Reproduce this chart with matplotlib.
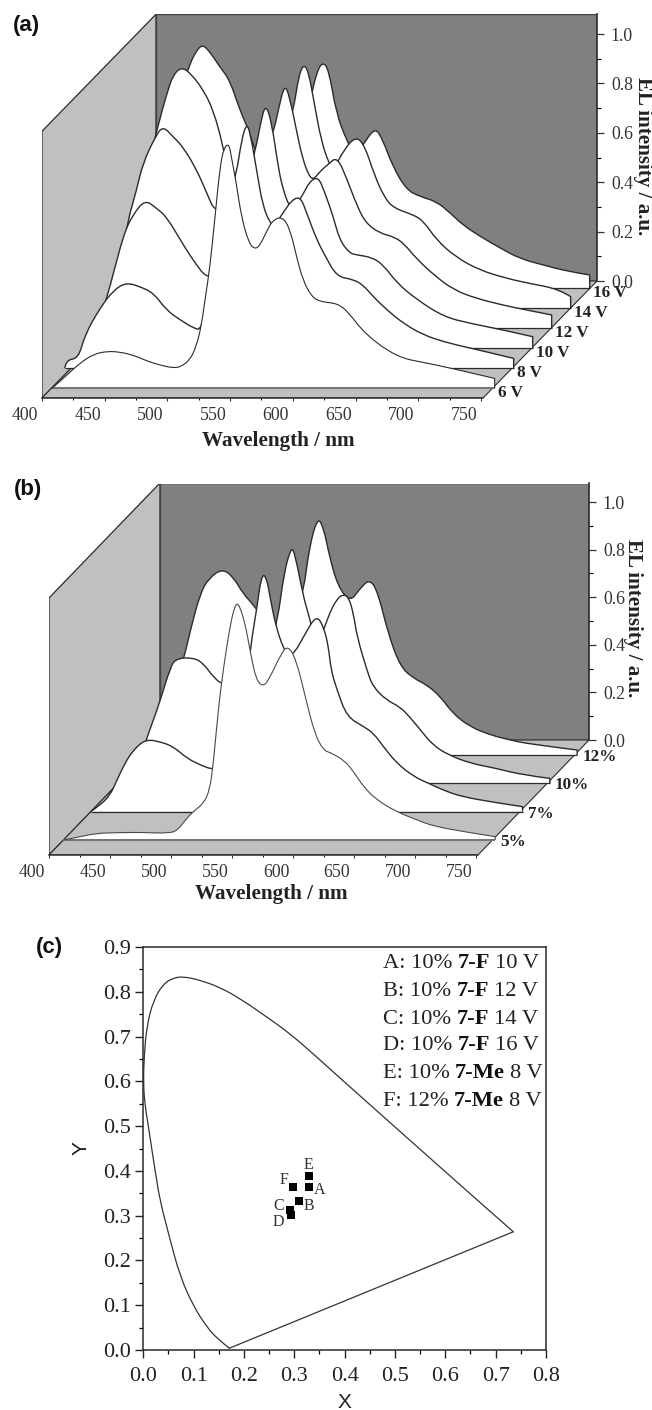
import numpy as np
import matplotlib
matplotlib.use("Agg")
import matplotlib.pyplot as plt
from matplotlib.patches import PathPatch
from matplotlib.path import Path
from matplotlib.transforms import ScaledTranslation

W, H = 652, 1410
SERIF = "Liberation Serif"
SANS = "Liberation Sans"
DARK = "#2b2b2b"

# panel (a): EL spectra at different voltages
labels_a = ["6 V", "8 V", "10 V", "12 V", "14 V", "16 V"]
wl_6v = [400, 412, 422, 433, 444, 454, 465, 475, 486, 497, 503, 510, 515, 519, 522, 526, 530, 534, 537, 541, 543, 547,
         551, 557, 562, 566, 571, 576, 584, 590, 595, 600, 607, 614, 622, 630, 638, 646, 656, 667, 680, 693, 719, 753]
el_6v = [0, .054, .101, .138, .150, .147, .134, .112, .094, .082, .088, .115, .169, .250, .358, .493, .695, .897, .972,
         .992, .938, .830, .695, .587, .563, .580, .634, .681, .695, .641, .533, .439, .371, .351, .347, .337, .297,
         .243, .196, .155, .121, .108, .081, .040]
wl_8v = [395, 396, 406, 411, 423, 434, 444, 455, 466, 476, 487, 498, 504, 513, 519, 524, 532, 536, 540, 543, 548, 553,
         559, 562, 569, 576, 583, 588, 596, 603, 612, 625, 633, 641, 652, 665, 681, 697, 713, 731, 753]
el_8v = [0, .034, .04, .135, .243, .317, .347, .331, .304, .236, .196, .162, .155, .344, .547, .650, .789, .924, .992,
         .951, .803, .655, .587, .576, .628, .681, .695, .628, .520, .452, .371, .360, .337, .290, .236, .182, .135,
         .108, .088, .067, .040]
wl_10v = [400, 408, 416, 427, 435, 444, 453, 461, 472, 482, 494, 501, 512, 525, 532, 536, 540, 545, 550, 554, 559, 562,
          569, 575, 582, 587, 594, 599, 607, 613, 625, 634, 645, 661, 682, 703, 730, 753]
el_10v = [0, .115, .25, .466, .547, .601, .567, .533, .439, .358, .277, .33, .45, .682, .803, .911, .992, .911, .735,
          .641, .574, .567, .614, .675, .695, .634, .533, .439, .385, .378, .368, .337, .263, .196, .128, .101, .074,
          .047]
wl_12v = [400, 413, 422, 427, 437, 443, 451, 459, 470, 478, 485, 499, 515, 531, 535, 540, 544, 550, 554, 559, 563, 568,
          575, 582, 590, 598, 605, 616, 627, 635, 645, 659, 675, 693, 714, 733, 753]
el_12v = [0, .398, .560, .668, .776, .819, .776, .735, .641, .547, .466, .520, .60, .789, .884, .989, .938, .789, .695,
          .621, .601, .634, .665, .695, .601, .493, .425, .385, .371, .344, .283, .216, .155, .121, .094, .074, .054]
wl_14v = [400, 412, 423, 431, 436, 443, 451, 460, 468, 476, 484, 500, 521, 532, 536, 540, 544, 549, 554, 560, 564, 572,
          582, 589, 596, 604, 612, 628, 636, 646, 661, 680, 702, 720, 744, 753]
el_14v = [0, .493, .722, .870, .945, .978, .945, .884, .803, .655, .439, .439, .60, .803, .938, .989, .958, .816, .682,
          .588, .560, .641, .698, .655, .547, .452, .405, .378, .351, .277, .209, .155, .121, .101, .077, .047]
wl_16v = [400, 416, 426, 433, 438, 444, 450, 458, 466, 474, 481, 486, 495, 517, 527, 531, 535, 540, 545, 551, 559, 566,
          573, 582, 588, 596, 607, 618, 631, 642, 652, 666, 682, 697, 716, 737, 753]
el_16v = [0, .560, .789, .891, .951, .989, .958, .897, .843, .722, .641, .560, .466, .600, .708, .776, .870, .918,
          .884, .708, .601, .533, .587, .652, .601, .493, .398, .371, .351, .304, .256, .209, .162, .121, .094, .067,
          .054]

# panel (b): EL spectra at different doping levels
labels_b = ["5%", "7%", "10%", "12%"]
wl_5 = [400, 414, 427, 444, 463, 487, 494, 501, 508, 515, 520, 523, 527, 531, 537, 541, 544, 549, 553, 558, 564, 569,
        578, 584, 591, 599, 606, 613, 619, 630, 638, 646, 657, 673, 690, 703, 728, 754]
el_5 = [0, .014, .028, .031, .032, .028, .042, .091, .126, .154, .210, .322, .546, .714, .910, .990, .992, .910, .798,
        .672, .644, .679, .777, .819, .756, .588, .448, .378, .367, .336, .287, .224, .168, .119, .084, .059, .035,
        .014]
wl_7 = [400, 408, 416, 421, 428, 435, 445, 457, 468, 479, 490, 501, 511, 520, 528, 531, 536, 540, 544, 548, 552, 558,
        562, 567, 576, 585, 591, 595, 597, 602, 610, 624, 632, 640, 651, 665, 677, 692, 705, 727, 754]
el_7 = [0, .028, .070, .126, .203, .259, .304, .294, .273, .224, .196, .175, .203, .315, .525, .693, .847, .994, .990,
        .875, .777, .686, .658, .665, .749, .826, .777, .693, .595, .511, .399, .357, .329, .273, .203, .147, .119,
        .084, .063, .042, .021]
wl_10 = [400, 410, 421, 423, 434, 443, 448, 462, 470, 478, 486, 500, 519, 531, 536, 542, 545, 552, 556, 563, 570, 574,
         579, 584, 589, 593, 596, 604, 609, 620, 631, 639, 648, 658, 671, 689, 710, 732, 754]
el_10 = [0, .056, .140, .182, .336, .490, .525, .528, .504, .448, .413, .420, .448, .686, .882, .994, .966, .784, .714,
         .574, .665, .721, .770, .794, .784, .714, .616, .476, .406, .350, .322, .280, .224, .161, .119, .084, .063,
         .035, .021]
wl_12 = [400, 415, 428, 432, 437, 445, 452, 463, 472, 480, 490, 499, 519, 530, 534, 541, 546, 551, 558, 568, 575, 584,
         591, 599, 609, 620, 631, 642, 652, 666, 683, 699, 715, 754]
el_12 = [0, .189, .357, .413, .525, .679, .742, .783, .749, .679, .623, .553, .497, .693, .861, .999, .959, .833, .707,
         .644, .693, .742, .679, .511, .371, .322, .294, .245, .175, .119, .084, .063, .046, .021]

# panel (c): CIE chromaticity diagram
locus_x = [.171, .146, .126, .10, .073, .05, .033, .025, .0167, .01, .003, 0, .002, .0067, .02, .04, .06, .0795, .1126,
           .152, .192, .245, .291, .344, .391, .663, .735]
locus_y = [.004, .026, .052, .097, .164, .26, .335, .39, .45, .5, .55, .6, .66, .722, .781, .818, .831, .834, .826,
           .81, .785, .744, .707, .655, .607, .335, .264]
point_names = ["A", "B", "C", "D", "E", "F"]
point_x = [.329, .310, .291, .293, .329, .298]
point_y = [.364, .333, .312, .301, .388, .364]
legend_rows = [("A: 10%", "7-F", "10 V"), ("B: 10%", "7-F", "12 V"), ("C: 10%", "7-F", "14 V"),
               ("D: 10%", "7-F", "16 V"), ("E: 10%", "7-Me", "8 V"), ("F: 12%", "7-Me", "8 V")]

fig = plt.figure(figsize=(W / 100, H / 100), dpi=100)


def px_axes(left, top, right, bottom):
    return fig.add_axes([left / W, 1 - bottom / H, (right - left) / W, (bottom - top) / H])


def px_text(x, y, s, **kw):
    return fig.text(x / W, 1 - y / H, s, va="center", **kw)


def smooth_verts(x, y):
    # quadratic bezier pieces: the read points act as control points
    pts = np.column_stack([x, y])
    verts = [pts[0]]
    codes = [Path.MOVETO]
    for i in range(1, len(pts) - 1):
        end = pts[i + 1] if i == len(pts) - 2 else (pts[i] + pts[i + 1]) / 2
        verts += [pts[i], end]
        codes += [Path.CURVE3, Path.CURVE3]
    return verts, codes


def waterfall(box, back, sx, sy, step, curves, names, label_gap, front_color):
    left, top, right, floor = box
    back_left, back_bottom = back
    x0, y0, xstep, ystep = step
    ax = px_axes(left, top, right, floor)
    wl_end = 400 + (right - back_left) / sx
    depth_x = (back_left - left) / sx
    depth_y = (floor - back_bottom) / sy
    wall_top = 1.08
    ax.set_xlim(400, 400 + (right - left) / sx)
    ax.set_ylim(0, (floor - top) / sy)
    ax.patch.set_alpha(0)

    ax.fill([400, 400, 400 + depth_x, 400 + depth_x], [0, wall_top, wall_top + depth_y, depth_y],
            fc="#c0c0c0", ec=DARK, lw=0.9)
    ax.fill([400 + depth_x, 400 + depth_x, wl_end + depth_x, wl_end + depth_x],
            [depth_y, wall_top + depth_y, wall_top + depth_y, depth_y], fc="#808080", ec="#444444", lw=1.0)
    ax.fill([400, 400 + depth_x, wl_end + depth_x, wl_end], [0, depth_y, depth_y, 0], fc="#c0c0c0", ec=DARK, lw=0.8)

    # back to front, each curve masks what lies behind it
    n = len(curves)
    for k in reversed(range(n)):
        z = 3 + (n - k) * 3
        wl, el = curves[k]
        wl = np.array(wl) + (x0 + k * xstep) / sx
        el = np.array(el) + (y0 + k * ystep) / sy
        base = (y0 + k * ystep) / sy
        verts, codes = smooth_verts(wl, el)
        fill_verts = verts + [(wl[-1], base), (wl[0], base), verts[0]]
        fill_codes = codes + [Path.LINETO, Path.LINETO, Path.CLOSEPOLY]
        ax.add_patch(PathPatch(Path(fill_verts, fill_codes), fc="white", ec="none", zorder=z))
        color = front_color if k == 0 else DARK
        ax.plot([wl[0], wl[-1]], [base, base], color="#777777" if k == 0 else DARK, lw=1.5 if k == 0 else 0.9,
                solid_capstyle="butt", zorder=z + 1)
        edge_verts = verts + [(wl[-1], base)]
        edge_codes = codes + [Path.LINETO]
        ax.add_patch(PathPatch(Path(edge_verts, edge_codes), fc="none", ec=color, lw=0.8 if k == 0 else 1.0,
                               joinstyle="round", zorder=z + 2))
        ax.annotate(names[k], (wl[-1], base), xytext=(label_gap[0] * 0.72, label_gap[1] * 0.72),
                    textcoords="offset points", va="center", ha="left",
                    family=SERIF, weight="bold", fontsize=12.3, color="#222222", annotation_clip=False, zorder=40)

    for side in ["top", "left", "right"]:
        ax.spines[side].set_visible(False)
    ax.spines["bottom"].set_bounds(400, wl_end)
    ax.spines["bottom"].set_linewidth(1.1)
    ax.spines["bottom"].set_color(DARK)
    ax.set_yticks([])
    ax.set_xticks(np.arange(400, 751, 50))
    ax.set_xticks(np.arange(425, 751, 50), minor=True)
    ax.tick_params(axis="x", which="major", length=2.2, width=0.8, pad=4.5, labelsize=12.8, colors="#333333")
    ax.tick_params(axis="x", which="minor", length=1.2, width=0.7)
    for lab in ax.get_xticklabels():
        lab.set_family(SERIF)
        # labels sit left of their ticks in the original
        lab.set_transform(lab.get_transform() + ScaledTranslation(-17 / 100, 0, fig.dpi_scale_trans))

    ax2 = ax.twinx()
    ax2.set_ylim(-depth_y, (floor - top) / sy - depth_y)
    ax2.patch.set_alpha(0)
    for side in ["top", "left", "bottom"]:
        ax2.spines[side].set_visible(False)
    ax2.spines["right"].set_bounds(0, wall_top)
    ax2.spines["right"].set_linewidth(1.2)
    ax2.spines["right"].set_color(DARK)
    ax2.set_yticks(np.arange(0, 1.01, 0.2))
    ax2.set_yticks(np.arange(0.1, 1.0, 0.2), minor=True)
    ax2.tick_params(axis="y", which="major", length=5, width=0.9, pad=5, labelsize=12.8, colors="#333333")
    ax2.tick_params(axis="y", which="minor", length=3, width=0.8)
    for lab in ax2.get_yticklabels():
        lab.set_family(SERIF)
    return ax


curves_a = [(wl_6v, el_6v), (wl_8v, el_8v), (wl_10v, el_10v), (wl_12v, el_12v), (wl_14v, el_14v), (wl_16v, el_16v)]
waterfall((42, 14, 597, 398), (156, 281), 1.254, 247, (10, 9.7, 19, 20), curves_a, labels_a, (3, -5), DARK)

curves_b = [(wl_5, el_5), (wl_7, el_7), (wl_10, el_10), (wl_12, el_12)]
waterfall((49, 484, 589, 855), (160, 740), 1.22, 238, (14.3, 15, 27.33, 28.33), curves_b, labels_b, (5, -2), "#4a4a4a")

px_text(26, 25, "(a)", family=SANS, weight="bold", fontsize=16, ha="center", color="#111111")
px_text(28, 490, "(b)", family=SANS, weight="bold", fontsize=16, ha="center", color="#111111")
px_text(49, 947, "(c)", family=SANS, weight="bold", fontsize=16, ha="center", color="#111111")
px_text(278, 441, "Wavelength / nm", family=SERIF, weight="bold", fontsize=15.2, ha="center", color="#222222")
px_text(271, 894, "Wavelength / nm", family=SERIF, weight="bold", fontsize=15.2, ha="center", color="#222222")
px_text(643, 156, "EL intensity / a.u.", family=SERIF, weight="bold", fontsize=15.2, ha="center", rotation=270,
        color="#222222")
px_text(633, 618, "EL intensity / a.u.", family=SERIF, weight="bold", fontsize=15.2, ha="center", rotation=270,
        color="#222222")

# panel (c)
ax_c = px_axes(143.3, 947, 546, 1350)
ax_c.set_xlim(0, 0.8)
ax_c.set_ylim(0, 0.9)
verts_c, codes_c = smooth_verts(locus_x, locus_y)
ax_c.add_patch(PathPatch(Path(verts_c, codes_c), fc="none", ec="#333333", lw=0.9, clip_on=False))
ax_c.plot([locus_x[-1], locus_x[0]], [locus_y[-1], locus_y[0]], color="#333333", lw=0.9)
ax_c.scatter(point_x, point_y, marker="s", s=26, color="black", linewidths=0, zorder=3)
label_offsets = [(11, -3), (10, -5), (-11, 4), (-12, -7), (0, 11), (-9, 7)]
for name, x, y, off in zip(point_names, point_x, point_y, label_offsets):
    ax_c.annotate(name, (x, y), xytext=(off[0] * 0.72, off[1] * 0.72), textcoords="offset points",
                  ha="center", va="center", family=SERIF, fontsize=11.5, color="#333333")
ax_c.set_xticks(np.arange(0, 0.81, 0.1))
ax_c.set_yticks(np.arange(0, 0.91, 0.1))
ax_c.set_xticks(np.arange(0.05, 0.8, 0.1), minor=True)
ax_c.set_yticks(np.arange(0.05, 0.9, 0.1), minor=True)
ax_c.tick_params(which="major", length=6, width=1.0, pad=3, labelsize=16, colors="#222222")
ax_c.tick_params(axis="x", which="major", pad=6)
ax_c.tick_params(which="minor", length=3, width=0.9)
for lab in ax_c.get_xticklabels() + ax_c.get_yticklabels():
    lab.set_family(SERIF)
for side in ax_c.spines.values():
    side.set_linewidth(1.1)
    side.set_color(DARK)

px_text(344, 1402, "X", family=SANS, fontsize=15, ha="center", color="#222222")
px_text(81, 1148, "Y", family=SANS, fontsize=15, ha="center", rotation=90, color="#222222")

row_y = [964, 992, 1019, 1046, 1074, 1101]
for (head, bold, tail), y in zip(legend_rows, row_y):
    t1 = px_text(383, y, head, family=SERIF, fontsize=16.2, ha="left", color="#222222")
    t2 = plt.annotate(bold, xy=(1, 0), xycoords=t1, xytext=(3.8, 0), textcoords="offset points",
                      family=SERIF, weight="bold", fontsize=16.2, color="#111111", va="bottom", ha="left")
    plt.annotate(tail, xy=(1, 0), xycoords=t2, xytext=(3.8, 0), textcoords="offset points",
                 family=SERIF, fontsize=16.2, color="#222222", va="bottom", ha="left")

fig.savefig("out.png", dpi=100)
